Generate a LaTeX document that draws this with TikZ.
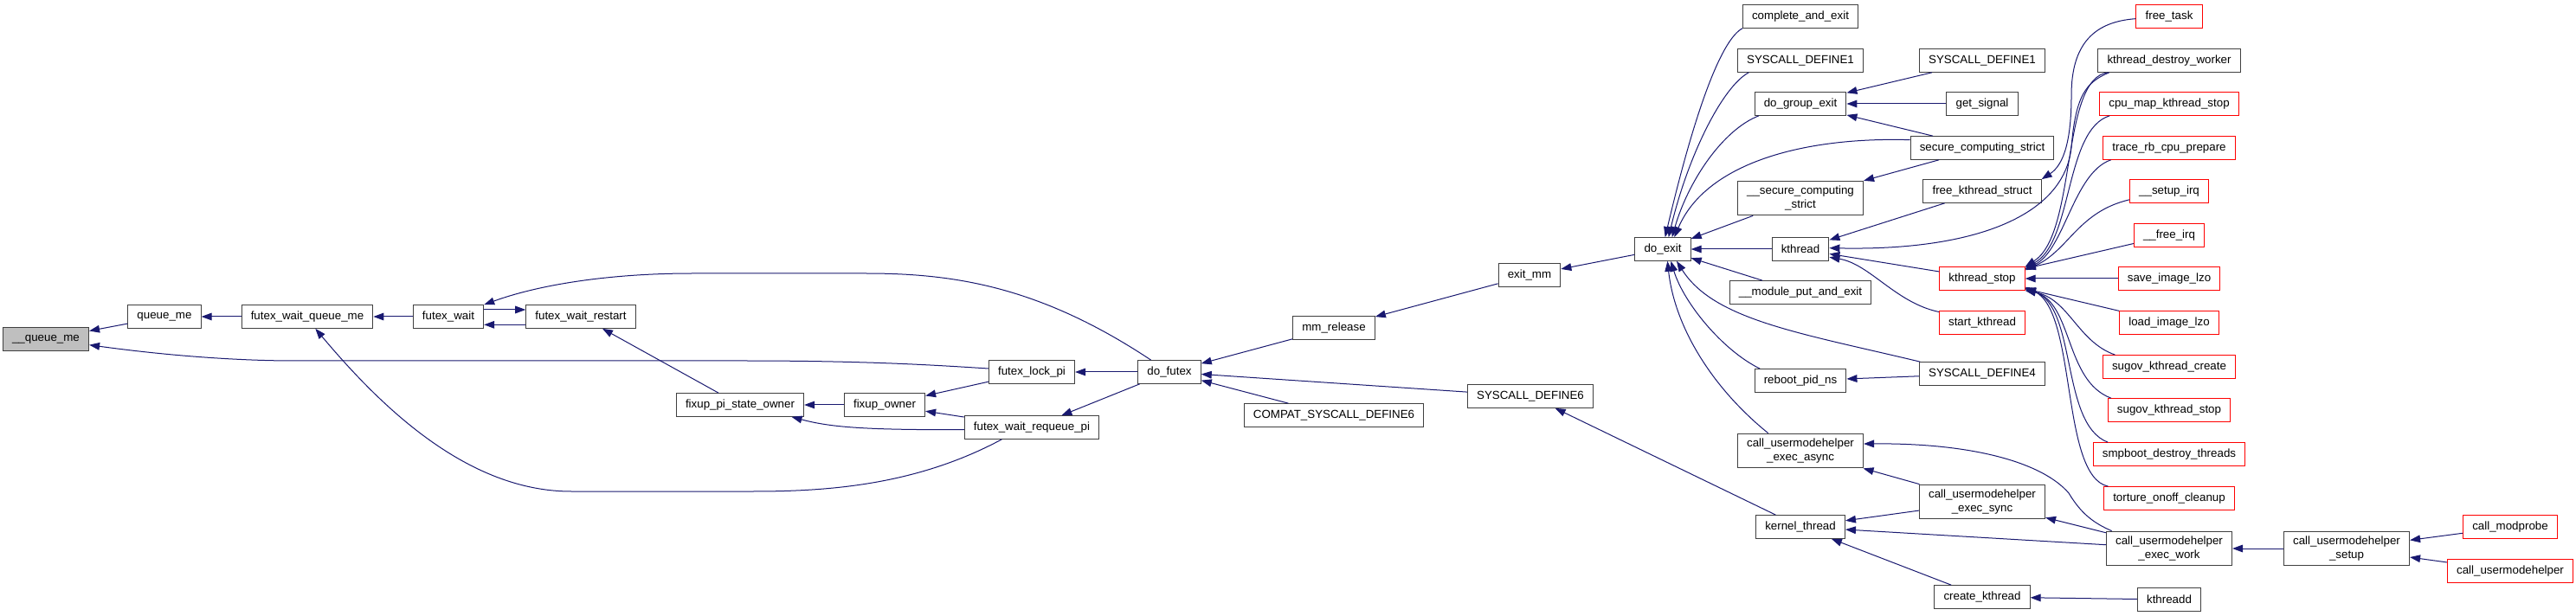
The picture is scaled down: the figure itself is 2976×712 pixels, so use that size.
\documentclass[tikz,border=0pt]{standalone}
\usepackage{fontspec}
\setmainfont{Liberation Sans}
\usetikzlibrary{arrows.meta}
\definecolor{edgeblue}{HTML}{191970}
\definecolor{boxedge}{HTML}{404040}
\definecolor{rootfill}{HTML}{BFBFBF}
\definecolor{truncred}{HTML}{FF0000}
\tikzset{
  fn/.style={draw=boxedge, line width=0.75pt, fill=white, align=center,
             font=\fontsize{10pt}{11.5pt}\selectfont, inner xsep=8pt, inner ysep=4.5pt,
             minimum height=20pt},
  fnroot/.style={fn, fill=rootfill},
  fnred/.style={fn, draw=truncred},
  calls/.style={{Triangle[length=9pt,width=6.5pt]}-, draw=edgeblue, line width=0.75pt},
}

\begin{document}
\begin{tikzpicture}[x=0.75pt, y=-0.75pt]
% ---- page (pixel grid, y downwards) ----------------------------------------
\fill[white] (0,0) rectangle (2976,712);
\useasboundingbox (0,0) rectangle (2976,712);
\def\xJ{1921} \def\xK{2080} \def\xL{2290} \def\xM{2506} \def\xN{2711} \def\xO{2900}

% ---- futex side --------------------------------------------------------------
\node[fnroot] (qme)  at (53,392)   {\_\_queue\_me};
\node[fn]     (qm)   at (190,366)  {queue\_me};
\node[fn]     (fwqm) at (355,366)  {futex\_wait\_queue\_me};
\node[fn]     (fw)   at (518,366)  {futex\_wait};
\node[fn]     (fwr)  at (671,366)  {futex\_wait\_restart};
\node[fn]     (fpso) at (855,468)  {fixup\_pi\_state\_owner};
\node[fn]     (fo)   at (1022,468) {fixup\_owner};
\node[fn]     (flp)  at (1192,430) {futex\_lock\_pi};
\node[fn]     (fwrp) at (1192,494) {futex\_wait\_requeue\_pi};
\node[fn]     (dfx)  at (1351,430) {do\_futex};
\node[fn]     (mmr)  at (1541,379) {mm\_release};
\node[fn]     (csd6) at (1541,480) {COMPAT\_SYSCALL\_DEFINE6};
\node[fn]     (exm)  at (1767,318) {exit\_mm};
\node[fn]     (sd6)  at (1768,458) {SYSCALL\_DEFINE6};

% ---- exit side ---------------------------------------------------------------
\node[fn] (dex)  at (\xJ,288) {do\_exit};
\node[fn] (cae)  at (\xK,19)  {complete\_and\_exit};
\node[fn] (sd1a) at (\xK,70)  {SYSCALL\_DEFINE1};
\node[fn] (dge)  at (\xK,120) {do\_group\_exit};
\node[fn] (uscs) at (\xK,229) {\_\_secure\_computing\\\_strict};
\node[fn] (kth)  at (\xK,288) {kthread};
\node[fn] (mpe)  at (\xK,338) {\_\_module\_put\_and\_exit};
\node[fn] (rpn)  at (\xK,440) {reboot\_pid\_ns};
\node[fn] (cuea) at (\xK,521) {call\_usermodehelper\\\_exec\_async};
\node[fn] (kthr) at (\xK,609) {kernel\_thread};

\node[fn]    (sd1b) at (\xL,70)  {SYSCALL\_DEFINE1};
\node[fn]    (gsig) at (\xL,120) {get\_signal};
\node[fn]    (scs)  at (\xL,171) {secure\_computing\_strict};
\node[fn]    (fks)  at (\xL,221) {free\_kthread\_struct};
\node[fnred] (kst)  at (\xL,322) {kthread\_stop};
\node[fnred] (sk)   at (\xL,373) {start\_kthread};
\node[fn]    (sd4)  at (\xL,432) {SYSCALL\_DEFINE4};
\node[fn]    (cues) at (\xL,580) {call\_usermodehelper\\\_exec\_sync};
\node[fn]    (ckt)  at (\xL,690) {create\_kthread};

% ---- callers of kthread_stop and friends --------------------------------------
\node[fnred] (ftask) at (\xM,19)  {free\_task};
\node[fn]    (kdw)   at (\xM,70)  {kthread\_destroy\_worker};
\node[fnred] (cmks)  at (\xM,120) {cpu\_map\_kthread\_stop};
\node[fnred] (trcp)  at (\xM,171) {trace\_rb\_cpu\_prepare};
\node[fnred] (sirq)  at (\xM,221) {\_\_setup\_irq};
\node[fnred] (firq)  at (\xM,272) {\_\_free\_irq};
\node[fnred] (sil)   at (\xM,322) {save\_image\_lzo};
\node[fnred] (lil)   at (\xM,373) {load\_image\_lzo};
\node[fnred] (skc)   at (\xM,424) {sugov\_kthread\_create};
\node[fnred] (sks)   at (\xM,474) {sugov\_kthread\_stop};
\node[fnred] (sdt)   at (\xM,525) {smpboot\_destroy\_threads};
\node[fnred] (toc)   at (\xM,576) {torture\_onoff\_cleanup};
\node[fn]    (cuew)  at (\xM,634) {call\_usermodehelper\\\_exec\_work};
\node[fn]    (ktd)   at (\xM,693) {kthreadd};
\node[fn]    (cus)   at (\xN,634) {call\_usermodehelper\\\_setup};
\node[fnred] (cmp)   at (\xO,609) {call\_modprobe};
\node[fnred] (cuh)   at (\xO,660) {call\_usermodehelper};

% ---- edges: futex side ----------------------------------------------------------
\draw[calls] (qme) -- (qm);
\draw[calls] ([yshift=-5pt]qme.east) .. controls (200,412) and (280,417) .. (340,417)
   -- (860,417) .. controls (1000,417) and (1080,422) .. ([yshift=3pt]flp.west);
\draw[calls] (qm) -- (fwqm);
\draw[calls] (fwqm) -- (fw);
\draw[calls] ([xshift=7pt]fwqm.south) .. controls (440,470) and (540,568) .. (660,568)
   -- (870,568) .. controls (960,568) and (1060,560) .. ([xshift=-26pt]fwrp.south);
\draw[calls] ([yshift=6pt]fwr.west) -- ([yshift=6pt]fw.east);
\draw[calls] ([yshift=-7pt]fw.east) -- ([yshift=-7pt]fwr.west);
\draw[calls] (fw.north east) .. controls (620,330) and (700,316) .. (800,316)
   -- (1000,316) .. controls (1100,316) and (1200,330) .. ([xshift=-16pt]dfx.north);
\draw[calls] (fwr) -- (fpso);
\draw[calls] (fpso) -- (fo);
\draw[calls] ([xshift=-11pt]fpso.south east) .. controls (960,494) and (1000,497) .. ([yshift=-2pt]fwrp.west);
\draw[calls] (fo) -- (flp);
\draw[calls] (fo) -- (fwrp);
\draw[calls] (flp) -- (dfx);
\draw[calls] (fwrp) -- (dfx);
\draw[calls] (dfx) -- (mmr);
\draw[calls] (dfx) -- (sd6);
\draw[calls] (dfx) -- (csd6);
\draw[calls] (mmr) -- (exm);
\draw[calls] (exm) -- (dex);
\draw[calls] (sd6) -- (kthr);

% ---- edges: into do_exit ----------------------------------------------------------
\draw[calls] ([xshift=2pt]dex.north) .. controls (1960,120) and (1990,45) .. (cae.south west);
\draw[calls] ([xshift=5pt]dex.north) .. controls (1950,180) and (1990,100) .. ([xshift=10pt]sd1a.south west);
\draw[calls] ([xshift=8pt]dex.north) .. controls (1950,210) and (1990,150) .. ([xshift=4pt]dge.south west);
\draw[calls] ([xshift=10pt]dex.north) .. controls (1970,190) and (2080,158) .. ([yshift=7pt]scs.west);
\draw[calls] (dex) -- (uscs);
\draw[calls] (dex) -- (kth);
\draw[calls] (dex) -- (mpe);
\draw[calls] ([xshift=7pt]dex.south) .. controls (1945,350) and (1990,405) .. ([xshift=5pt]rpn.north west);
\draw[calls] ([xshift=12pt]dex.south) .. controls (1980,370) and (2080,385) .. ([xshift=1pt]sd4.north west);
\draw[calls] ([xshift=4pt]dex.south) .. controls (1935,380) and (1980,450) .. ([xshift=-28pt]cuea.north);

% ---- edges: exit helpers ------------------------------------------------------------
\draw[calls] (dge) -- (sd1b);
\draw[calls] (dge) -- (gsig);
\draw[calls] (dge) -- (scs);
\draw[calls] (uscs) -- (scs);
\draw[calls] (kth) -- (fks);
\draw[calls] (kth) -- (kst);
\draw[calls] ([yshift=1pt]kth.east) .. controls (2280,290) and (2385,250) .. (2393,170)
   .. controls (2398,110) and (2410,95) .. ([xshift=10pt]kdw.south west);
\draw[calls] ([yshift=-7pt]kth.east) .. controls (2160,305) and (2190,350) .. ([yshift=-1pt]sk.north west);
\draw[calls] (fks.north east) .. controls (2385,190) and (2393,160) .. (2393,110)
   .. controls (2393,50) and (2420,25) .. ([yshift=-2pt]ftask.west);
\draw[calls] (rpn) -- (sd4);

% ---- edges: kthread_stop callers -------------------------------------------------
\draw[calls] (kst.north east) .. controls (2400,270) and (2380,90) .. ([xshift=9pt]kdw.south west);
\draw[calls] ([yshift=-1pt]kst.north east) .. controls (2395,280) and (2385,150) .. ([xshift=9pt]cmks.south west);
\draw[calls] ([yshift=-2pt]kst.north east) .. controls (2385,290) and (2395,200) .. ([xshift=7pt]trcp.south west);
\draw[calls] ([yshift=-3pt]kst.north east) .. controls (2390,290) and (2400,245) .. ([yshift=3pt]sirq.south west);
\draw[calls] (kst) -- (firq);
\draw[calls] (kst) -- (sil);
\draw[calls] (kst) -- (lil);
\draw[calls] (kst.south east) .. controls (2390,345) and (2400,395) .. ([xshift=11pt]skc.north west);
\draw[calls] ([yshift=1pt]kst.south east) .. controls (2395,350) and (2385,440) .. ([xshift=3pt]sks.north west);
\draw[calls] ([yshift=2pt]kst.south east) .. controls (2400,355) and (2380,490) .. ([xshift=13pt]sdt.north west);
\draw[calls] ([yshift=3pt]kst.south east) .. controls (2400,360) and (2380,550) .. ([xshift=4pt]toc.north west);

% ---- edges: usermode helper and kernel_thread ---------------------------------------
\draw[calls] ([yshift=6pt]cuea.east) .. controls (2280,512) and (2360,535) .. (2390,570)
   .. controls (2405,595) and (2420,605) .. ([xshift=5pt]cuew.north west);
\draw[calls] (cuea) -- (cues);
\draw[calls] (kthr) -- (cues);
\draw[calls] (kthr) -- (cuew);
\draw[calls] (kthr) -- (ckt);
\draw[calls] (cues) -- (cuew);
\draw[calls] (ckt) -- (ktd);
\draw[calls] (cuew) -- (cus);
\draw[calls] (cus) -- (cmp);
\draw[calls] (cus) -- (cuh);
\end{tikzpicture}
\end{document}
